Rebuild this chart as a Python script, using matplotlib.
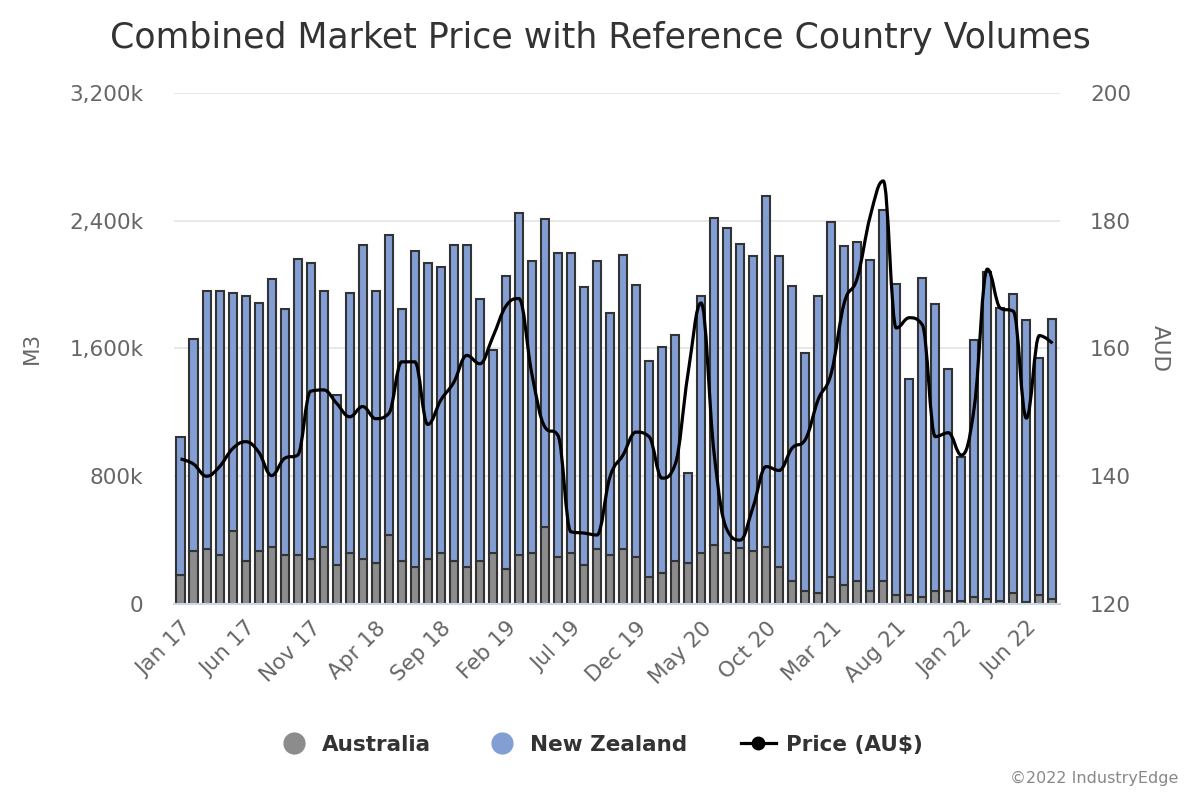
import numpy as np
import matplotlib
matplotlib.use("Agg")
import matplotlib.pyplot as plt
from matplotlib.path import Path
from matplotlib.patches import PathPatch
from matplotlib.lines import Line2D

# Monthly volumes in thousands of m3, Jan 2017 .. Aug 2022
australia = [181, 333, 344, 306, 456, 271, 333, 358, 306, 306, 281, 358,
             244, 321, 281, 256, 431, 271, 233, 281, 321, 271, 233, 271,
             321, 219, 306, 321, 483, 296, 321, 244, 344, 306, 344, 296,
             171, 196, 269, 257, 322, 370, 322, 350, 334, 359, 234, 146,
             84, 71, 171, 119, 146, 84, 146, 58, 58, 46, 84, 84,
             21, 46, 33, 21, 71, 10, 58, 33]
new_zealand = [865, 1325, 1614, 1652, 1490, 1660, 1550, 1675, 1540, 1852, 1852, 1600,
               1064, 1625, 1965, 1702, 1877, 1575, 1975, 1852, 1787, 1975, 2013, 1637,
               1271, 1837, 2140, 1825, 1925, 1900, 1875, 1739, 1802, 1515, 1839, 1700,
               1351, 1414, 1418, 565, 1603, 2044, 2029, 1901, 1842, 2193, 1942, 1842,
               1490, 1854, 2218, 2119, 2117, 2067, 2318, 1942, 1353, 1992, 1791, 1390,
               902, 1604, 2047, 1829, 1867, 1765, 1479, 1754]
price = [142.7, 141.9, 140.0, 141.5, 144.3, 145.4, 143.8, 140.1, 142.8, 143.3, 153.3, 153.5,
         151.4, 149.3, 150.9, 149.0, 149.8, 157.9, 157.9, 148.1, 151.9, 154.7, 158.9, 157.6,
         161.8, 166.6, 167.8, 156.0, 147.7, 146.4, 131.3, 131.1, 130.8, 139.9, 143.3, 146.9,
         146.2, 139.7, 141.8, 156.1, 167.1, 143.6, 131.6, 130.0, 135.2, 141.5, 140.9, 144.4,
         145.7, 152.0, 156.1, 167.1, 171.0, 180.7, 186.2, 163.2, 164.8, 163.7, 146.2, 146.8,
         143.3, 150.9, 172.4, 166.3, 165.8, 149.1, 162.0, 160.8]

tick_labels = ["Jan 17", "Jun 17", "Nov 17", "Apr 18", "Sep 18", "Feb 19", "Jul 19",
               "Dec 19", "May 20", "Oct 20", "Mar 21", "Aug 21", "Jan 22", "Jun 22"]

left_ticks = [0, 800, 1600, 2400, 3200]
right_ticks = [120, 140, 160, 180, 200]

AUS_COLOR = "#8c8c8c"
NZ_COLOR = "#839ed3"
TEXT = "#333333"
LABEL = "#666666"


def spline_path(xs, ys, smoothing=1.5):
    # bezier spline in the style of Highcharts' "spline" series
    n = len(xs)
    den = smoothing + 1
    left = [None] * n
    right = [None] * n
    for i in range(1, n - 1):
        px, py = xs[i], ys[i]
        lx, ly = xs[i - 1], ys[i - 1]
        nx, ny = xs[i + 1], ys[i + 1]
        lcx = (smoothing * px + lx) / den
        lcy = (smoothing * py + ly) / den
        rcx = (smoothing * px + nx) / den
        rcy = (smoothing * py + ny) / den
        if rcx != lcx:
            corr = (rcy - lcy) * (rcx - px) / (rcx - lcx) + py - rcy
            lcy += corr
            rcy += corr
        if lcy > ly and lcy > py:
            lcy = max(ly, py)
            rcy = 2 * py - lcy
        elif lcy < ly and lcy < py:
            lcy = min(ly, py)
            rcy = 2 * py - lcy
        if rcy > ny and rcy > py:
            rcy = max(ny, py)
            lcy = 2 * py - rcy
        elif rcy < ny and rcy < py:
            rcy = min(ny, py)
            lcy = 2 * py - rcy
        left[i] = (lcx, lcy)
        right[i] = (rcx, rcy)
    verts = [(xs[0], ys[0])]
    codes = [Path.MOVETO]
    for i in range(1, n):
        c1 = right[i - 1] if right[i - 1] is not None else (xs[i - 1], ys[i - 1])
        c2 = left[i] if left[i] is not None else (xs[i], ys[i])
        verts += [c1, c2, (xs[i], ys[i])]
        codes += [Path.CURVE4] * 3
    return Path(verts, codes)


fig = plt.figure(figsize=(12, 8), dpi=100)
ax = fig.add_axes([0.145, 0.245, 0.738, 0.639])
ax2 = ax.twinx()

x = np.arange(len(australia))
ax.bar(x, australia, width=0.62, color=AUS_COLOR, edgecolor="#333333", linewidth=1.5, zorder=2)
ax.bar(x, new_zealand, bottom=australia, width=0.62, color=NZ_COLOR,
       edgecolor="#333333", linewidth=1.5, zorder=2)

ax.set_xlim(-0.5, len(x) - 0.45)
ax.set_ylim(0, 3200)
ax.set_yticks(left_ticks)
ax.set_yticklabels(["0" if v == 0 else f"{v:,}k" for v in left_ticks])
ax.yaxis.grid(True, color="#e6e6e6", linewidth=1.3)
ax.set_axisbelow(True)
ax.set_xticks(np.arange(0, len(x), 5))
ax.set_xticklabels(tick_labels, rotation=45, ha="right", va="top",
                   rotation_mode="anchor")
ax.tick_params(axis="x", length=0, pad=10, labelsize=15.5, labelcolor=LABEL)
ax.tick_params(axis="y", length=0, pad=22, labelsize=15.5, labelcolor=LABEL)
for s in ["top", "left", "right"]:
    ax.spines[s].set_visible(False)
ax.spines["bottom"].set_color("#ccd6eb")
ax.spines["bottom"].set_linewidth(1.5)
ax.set_ylabel("M3", fontsize=15.5, color=LABEL, labelpad=20)

ax2.add_patch(PathPatch(spline_path(x, price), facecolor="none", edgecolor="black",
                        linewidth=2.3, zorder=3))
ax2.set_ylim(120, 200)
ax2.set_yticks(right_ticks)
ax2.tick_params(axis="y", length=0, pad=22, labelsize=15.5, labelcolor=LABEL)
for s in ax2.spines.values():
    s.set_visible(False)
ax2.set_ylabel("AUD", fontsize=15.5, color=LABEL, rotation=270, labelpad=28)

fig.text(0.5, 0.953, "Combined Market Price with Reference Country Volumes",
         ha="center", va="center", fontsize=25, color=TEXT)

handles = [
    Line2D([], [], linestyle="none", marker="o", markersize=15, color=AUS_COLOR),
    Line2D([], [], linestyle="none", marker="o", markersize=15, color=NZ_COLOR),
    Line2D([], [], color="black", linewidth=2.3, marker="o", markersize=9),
]
leg = fig.legend(handles, ["Australia", "New Zealand", "Price (AU$)"],
                 loc="center", bbox_to_anchor=(0.5, 0.069), ncol=3, frameon=False,
                 handlelength=1.6, handletextpad=0.5, columnspacing=2.5,
                 prop={"size": 15.5, "weight": "bold"})
for t in leg.get_texts():
    t.set_color(TEXT)

fig.text(0.982, 0.027, "\u00a92022 IndustryEdge", ha="right", va="center",
         fontsize=11.5, color="#888888")

fig.savefig("out.png", dpi=100)
